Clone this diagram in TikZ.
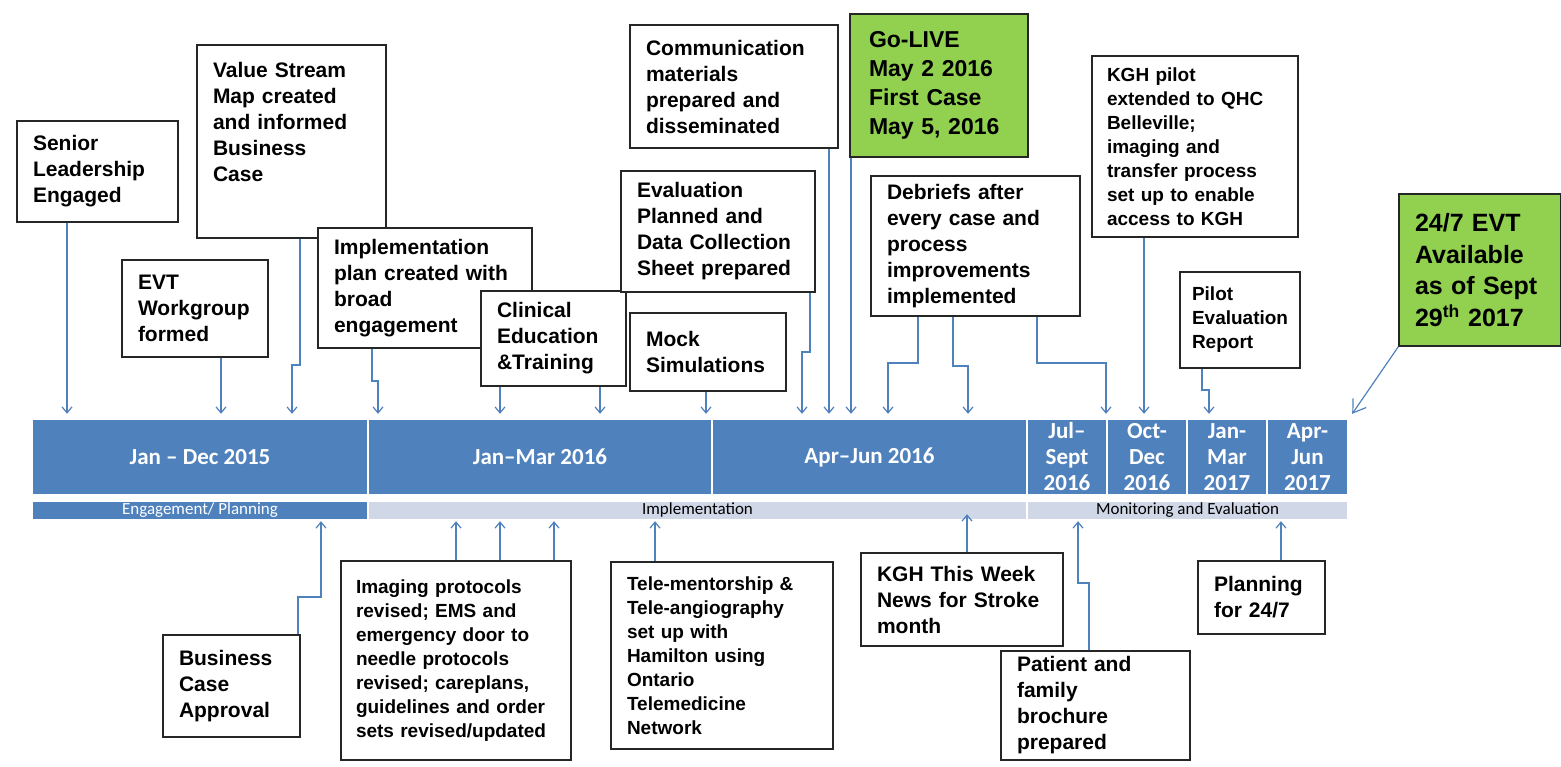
\documentclass[tikz,border=0pt]{standalone}
\usepackage{fontspec}
\setmainfont{Liberation Sans}
\newfontfamily\barfont{Carlito}
\usepackage{xcolor}
\usetikzlibrary{
    arrows.meta
}
\definecolor{barblue}{HTML}{4F81BD}
\definecolor{phaselight}{HTML}{D0D8E8}
\definecolor{linkblue}{HTML}{4F81BD}
\definecolor{golivegreen}{HTML}{92D050}
\tikzset{
    box/.style={draw=black!85, line width=1.3pt, fill=white, align=left,
        inner xsep=16pt, inner ysep=0pt, font=\fontsize{21}{26}\selectfont\bfseries},
    dense/.style={font=\fontsize{19}{24}\selectfont\bfseries},
    milestone/.style={box, fill=golivegreen},
    seg/.style={fill=barblue, text=white, inner sep=0pt, minimum height=74pt,
        align=center, font=\barfont\bfseries\fontsize{23}{26}\selectfont},
    phase/.style={fill=phaselight, inner sep=0pt, minimum height=17pt,
        text height=11pt, text depth=3pt, font=\barfont\fontsize{17}{17}\selectfont},
    tick/.style={draw=linkblue, line width=1.2pt, ->, shorten >=6pt},
    lift/.style={draw=linkblue, line width=1.2pt, ->, shorten >=2pt},
    >={Straight Barb[length=6pt,width=10pt]}
}

\begin{document}
\begin{tikzpicture}[x=1pt, y=-1pt]
    \useasboundingbox (0,0) rectangle (1561,767);
    % time line
    \node[seg, minimum width=334pt] (y2015) at (200,457) {Jan \textendash{} Dec 2015};
    \node[seg, minimum width=342pt] (q1) at (540,457) {Jan\textendash Mar 2016};
    \node[seg, minimum width=313pt] (q2) at (869.5,457) {Apr\textendash Jun 2016};
    \node[seg, minimum width=78pt] (q3) at (1067,457) {Jul\textendash\\Sept\\2016};
    \node[seg, minimum width=78pt] (q4) at (1147,457) {Oct-\\Dec\\2016};
    \node[seg, minimum width=78pt] (q5) at (1227,457) {Jan-\\Mar\\2017};
    \node[seg, minimum width=79pt] (q6) at (1307.5,457) {Apr-\\Jun\\2017};
    \node[phase, minimum width=334pt, fill=barblue, text=white] (engage) at (200,510.5) {Engagement/ Planning};
    \node[phase, minimum width=657pt] (implement) at (697.5,510.5) {Implementation};
    \node[phase, minimum width=319pt] (monitor) at (1187.5,510.5) {Monitoring and Evaluation};

    % above the line
    \node[box, text width=129pt, minimum height=101pt] (senior) at (97.5,171.5) {Senior\\Leadership\\Engaged};
    \node[box, text width=114pt, minimum height=97pt] (evt) at (195,308.5) {EVT\\Workgroup\\formed};
    \node[box, text width=157pt, minimum height=193pt] (vsm) at (291.5,141.5) {Value Stream\\Map created\\and informed\\Business\\Case\\[14pt]\mbox{}};
    \node[box, text width=182pt, minimum height=120pt] (plan) at (425,288) {Implementation\\plan created with\\broad\\engagement};
    \node[box, text width=113pt, minimum height=95pt] (clinical) at (553.5,338.5) {Clinical\\Education\\\&Training};
    \node[box, text width=162pt, minimum height=121pt] (evalplan) at (718,231.5) {Evaluation\\Planned and\\Data Collection\\Sheet prepared};
    \node[box, text width=124pt, minimum height=78pt] (mock) at (708,352) {Mock\\Simulations};
    \node[box, text width=176pt, minimum height=123pt] (comm) at (734,86.5) {Communication\\materials\\prepared and\\disseminated};
    \node[milestone, inner xsep=19pt, text width=140pt, minimum height=143pt,
        font=\fontsize{23}{29}\selectfont\bfseries] (golive) at (939,85.5) {Go-LIVE\\May 2 2016\\First Case\\May 5, 2016};
    \node[box, text width=177pt, minimum height=140pt] (debrief) at (975.5,246) {Debriefs after\\every case and\\process\\improvements\\implemented};
    \node[box, dense, inner xsep=15pt, text width=176pt, minimum height=181pt] (kghpilot) at (1195,146.5) {KGH pilot\\extended to QHC\\Belleville;\\imaging and\\transfer process\\set up to enable\\access to KGH};
    \node[box, font=\fontsize{19}{24}\selectfont\bfseries, inner xsep=12pt, text width=96pt, minimum height=96pt] (piloteval) at (1240,320) {Pilot\\Evaluation\\Report};
    \node[milestone, inner xsep=16pt, text width=130pt, minimum height=152pt,
        font=\fontsize{25}{31.5}\selectfont\bfseries] (avail) at (1480,270) {24/7 EVT\\Available\\as of Sept\\29\textsuperscript{th} 2017};

    % below the line
    \node[box, text width=105pt, minimum height=102pt] (bizcase) at (231.5,686) {Business\\Case\\Approval};
    \node[box, dense, inner xsep=15pt, text width=200pt, minimum height=199pt] (imaging) at (456,660.5) {Imaging protocols\\revised; EMS and\\emergency door to\\needle protocols\\revised; careplans,\\guidelines and order\\sets revised/updated};
    \node[box, dense, text width=190pt, minimum height=187pt] (telementor) at (722,655.5) {Tele-mentorship \&\\Tele-angiography\\set up with\\Hamilton using\\Ontario\\Telemedicine\\Network};
    \node[box, text width=170pt, minimum height=93pt] (kghweek) at (962,599.5) {KGH This Week\\News for Stroke\\month};
    \node[box, text width=157pt, minimum height=109pt] (patient) at (1095.5,705.5) {Patient and\\family\\brochure\\prepared};
    \node[box, text width=95pt, minimum height=73pt] (planning) at (1261.5,597.5) {Planning\\for 24/7};

    % links to the line
    \draw[tick] (senior.south -| 67,0) -- (67,0 |- y2015.north);
    \draw[tick] (evt.south -| 221,0) -- (221,0 |- y2015.north);
    \draw[tick] (vsm.south -| 300,0) |- (292,365) -- (292,0 |- y2015.north);
    \draw[tick] (plan.south -| 372,0) |- (378,381) -- (378,0 |- q1.north);
    \draw[tick] (clinical.south -| 500,0) -- (500,0 |- q1.north);
    \draw[tick] (clinical.south -| 600,0) -- (600,0 |- q1.north);
    \draw[tick] (mock.south -| 706,0) -- (706,0 |- q1.north);
    \draw[tick] (evalplan.south -| 810,0) |- (802,352) -- (802,0 |- q2.north);
    \draw[tick] (comm.south -| 829,0) -- (829,0 |- q2.north);
    \draw[tick] (golive.south -| 851,0) -- (851,0 |- q2.north);
    \draw[tick] (debrief.south -| 918,0) |- (888,363) -- (888,0 |- q2.north);
    \draw[tick] (debrief.south -| 953,0) |- (968,366) -- (968,0 |- q2.north);
    \draw[tick] (debrief.south -| 1037,0) |- (1106,363) -- (1106,0 |- q3.north);
    \draw[tick] (kghpilot.south -| 1144,0) -- (1144,0 |- q4.north);
    \draw[tick] (piloteval.south -| 1202,0) |- (1209,390) -- (1209,0 |- q5.north);
    \draw[tick, shorten >=0pt, -{Straight Barb[length=12pt,width=16pt]}]
        (avail.south west) -- ([xshift=5,yshift=6]q6.north east);

    \draw[lift] (bizcase.north -| 298,0) |- (321,597) -- (321,0 |- engage.south);
    \draw[lift] (imaging.north -| 456,0) -- (456,0 |- implement.south);
    \draw[lift] (imaging.north -| 500,0) -- (500,0 |- implement.south);
    \draw[lift] (imaging.north -| 554,0) -- (554,0 |- implement.south);
    \draw[lift] (telementor.north -| 655,0) -- (655,0 |- implement.south);
    \draw[lift, shorten >=-5pt] (kghweek.north -| 967,0) -- (967,0 |- implement.south);
    \draw[lift] (patient.north -| 1089,0) |- (1078,583) -- (1078,0 |- monitor.south);
    \draw[lift] (planning.north -| 1281,0) -- (1281,0 |- monitor.south);
\end{tikzpicture}
\end{document}
